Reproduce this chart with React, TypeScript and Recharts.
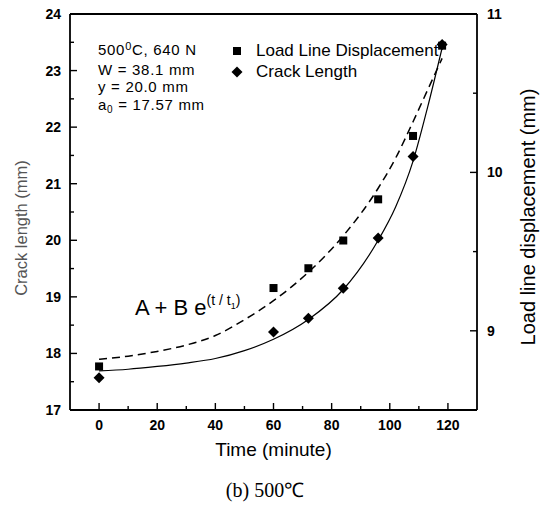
import React from 'react';
import { ComposedChart, Line, Scatter, XAxis, YAxis, Legend, Label } from 'recharts';

// axis ticks (minor ticks have no label)
const timeTicks = [0, 10, 20, 30, 40, 50, 60, 70, 80, 90, 100, 110, 120];
const timeLabels = [0, 20, 40, 60, 80, 100, 120];
const crackTicks = [17, 17.5, 18, 18.5, 19, 19.5, 20, 20.5, 21, 21.5, 22, 22.5, 23, 23.5, 24];
const crackLabels = [17, 18, 19, 20, 21, 22, 23, 24];
const displTicks = [8.5, 9, 9.5, 10, 10.5, 11];
const displLabels = [9, 10, 11];

// measured points
const pointTimes = [0, 60, 72, 84, 96, 108, 118];
const loadLineDisp = [8.775, 9.27, 9.395, 9.57, 9.83, 10.23, 10.8];
const crackLength = [17.57, 18.38, 18.62, 19.15, 20.04, 21.48, 23.46];

// fitted curves A + B e^(t/t1)
const fitTimes = [0, 10, 20, 30, 40, 50, 60, 72, 84, 96, 102, 108, 113, 118];
const loadLineFit = [8.82, 8.84, 8.87, 8.91, 8.97, 9.07, 9.19, 9.37, 9.6, 9.9, 10.09, 10.32, 10.52, 10.72];
const crackFit = [17.69, 17.72, 17.77, 17.83, 17.91, 18.05, 18.25, 18.6, 19.13, 20.0, 20.59, 21.4, 22.35, 23.4];

const legendOrder = ['Load Line Displacement', 'Crack Length'];
const legendMarks = { 'Load Line Displacement': 'square', 'Crack Length': 'diamond' };

const toRows = (ts, vs) => ts.map((t, i) => ({ t, v: vs[i] }));

const FONT = '"Liberation Sans", Arial, Helvetica, sans-serif';

const AxisTick = ({ x, y, payload, side, labels }) => {
    const v = payload.value;
    const major = labels.includes(v);
    const len = major ? 7 : 4;
    let line, text = null;
    if (side === 'left') {
        line = <line x1={x} y1={y} x2={x + len} y2={y} stroke="#000" strokeWidth={1.4} />;
        if (major) text = <text x={x - 9} y={y + 5} textAnchor="end">{v}</text>;
    } else if (side === 'right') {
        line = <line x1={x - len} y1={y} x2={x} y2={y} stroke="#000" strokeWidth={1.4} />;
        if (major) text = <text x={x + 10} y={y + 5} textAnchor="start">{v}</text>;
    } else if (side === 'bottom') {
        line = <line x1={x} y1={y} x2={x} y2={y - len} stroke="#000" strokeWidth={1.4} />;
        if (major) text = <text x={x} y={y + 20} textAnchor="middle">{v}</text>;
    } else {
        line = <line x1={x} y1={y} x2={x} y2={y + len} stroke="#000" strokeWidth={1.4} />;
    }
    return (
        <g fontFamily={FONT} fontSize={14} fontWeight="bold" fill="#000">
            {line}
            {text}
        </g>
    );
};

const Square = ({ cx, cy }) => <rect x={cx - 4} y={cy - 4} width={8} height={8} fill="#000" />;
const Diamond = ({ cx, cy }) => (
    <polygon points={`${cx},${cy - 5.5} ${cx + 5.5},${cy} ${cx},${cy + 5.5} ${cx - 5.5},${cy}`} fill="#000" />
);

const LegendContent = ({ payload }) => {
    const items = (payload || []).filter(p => legendMarks[p.value])
        .sort((a, b) => legendOrder.indexOf(a.value) - legendOrder.indexOf(b.value));
    return (
        <div style={{ fontFamily: FONT }}>
            {items.map(p => (
                <div key={p.value} style={{ display: 'flex', alignItems: 'center', height: 21 }}>
                    <svg width={16} height={12}>
                        {legendMarks[p.value] === 'square'
                            ? <rect x={3} y={2} width={8} height={8} fill="#000" />
                            : <polygon points="7,0.5 12.5,6 7,11.5 1.5,6" fill="#000" />}
                    </svg>
                    <span style={{ marginLeft: 10, fontSize: 17, color: '#000' }}>{p.value}</span>
                </div>
            ))}
        </div>
    );
};

const VTitle = ({ viewBox, text, dx, dy, size, color }) => {
    const cx = viewBox.x + dx;
    const cy = viewBox.y + viewBox.height / 2 + dy;
    return (
        <text x={cx} y={cy} transform={`rotate(-90 ${cx} ${cy})`} textAnchor="middle" dominantBaseline="central"
            fontFamily={FONT} fontSize={size} fill={color}>{text}</text>
    );
};

const XTitle = ({ viewBox }) => (
    <text x={viewBox.x + viewBox.width / 2} y={viewBox.y + 46} textAnchor="middle"
        fontFamily={FONT} fontSize={19} fill="#000">Time (minute)</text>
);

export default function App() {
    const squares = toRows(pointTimes, loadLineDisp);
    const diamonds = toRows(pointTimes, crackLength);
    const dashFit = toRows(fitTimes, loadLineFit);
    const solidFit = toRows(fitTimes, crackFit);

    return (
        <div style={{ position: 'absolute', left: 0, top: 0, width: 548, height: 510, background: '#fff', fontFamily: FONT }}>
            <ComposedChart width={548} height={470} margin={{ top: 0, right: 0, bottom: 0, left: 0 }}>
                <XAxis xAxisId="b" type="number" dataKey="t" domain={[-10, 130]} ticks={timeTicks} interval={0}
                    height={60} tickSize={0} tickMargin={0} tickLine={false} stroke="#000" strokeWidth={1.8}
                    tick={(p) => <AxisTick {...p} side="bottom" labels={timeLabels} />}>
                    <Label content={<XTitle />} />
                </XAxis>
                <XAxis xAxisId="top" orientation="top" type="number" domain={[-10, 130]} ticks={timeTicks} interval={0}
                    height={14} tickSize={0} tickMargin={0} tickLine={false} stroke="#000" strokeWidth={1.8}
                    tick={(p) => <AxisTick {...p} side="top" labels={timeLabels} />} />
                <YAxis yAxisId="l" type="number" domain={[17, 24]} ticks={crackTicks} interval={0} width={70}
                    tickSize={0} tickMargin={0} tickLine={false} stroke="#000" strokeWidth={1.8}
                    tick={(p) => <AxisTick {...p} side="left" labels={crackLabels} />}>
                    <Label content={<VTitle text="Crack length (mm)" dx={21} dy={16} size={16.5} color="#555" />} />
                </YAxis>
                <YAxis yAxisId="r" orientation="right" type="number" domain={[8.5, 11]} ticks={displTicks} interval={0} width={71}
                    tickSize={0} tickMargin={0} tickLine={false} stroke="#000" strokeWidth={1.8}
                    tick={(p) => <AxisTick {...p} side="right" labels={displLabels} />}>
                    <Label content={<VTitle text="Load line displacement (mm)" dx={51} dy={5} size={20} color="#000" />} />
                </YAxis>

                <Line xAxisId="b" yAxisId="r" data={dashFit} dataKey="v" type="monotone" stroke="#000" strokeWidth={1.5}
                    strokeDasharray="8 5" dot={false} legendType="none" isAnimationActive={false} />
                <Line xAxisId="b" yAxisId="l" data={solidFit} dataKey="v" type="monotone" stroke="#000" strokeWidth={1.2}
                    dot={false} legendType="none" isAnimationActive={false} />
                <Scatter xAxisId="b" yAxisId="r" name="Load Line Displacement" data={squares} dataKey="v"
                    shape={<Square />} isAnimationActive={false} />
                <Scatter xAxisId="b" yAxisId="l" name="Crack Length" data={diamonds} dataKey="v"
                    shape={<Diamond />} isAnimationActive={false} />

                <Legend layout="vertical" align="center" verticalAlign="middle" content={<LegendContent />}
                    wrapperStyle={{ left: 230, top: 40, width: 250, right: 'auto', bottom: 'auto' }} />
            </ComposedChart>

            <div style={{ position: 'absolute', left: 98, top: 41, fontSize: 15, lineHeight: '17.5px', letterSpacing: 0.7, color: '#000', whiteSpace: 'nowrap' }}>
                <div>500<span style={{ fontSize: 11, position: 'relative', top: -5 }}>0</span>C, 640 N</div>
                <div>W = 38.1 mm</div>
                <div>y = 20.0 mm</div>
                <div>a<span style={{ fontSize: 10, position: 'relative', top: 3 }}>0</span> = 17.57 mm</div>
            </div>

            <div style={{ position: 'absolute', left: 135, top: 295, fontSize: 22, lineHeight: '26px', color: '#000', whiteSpace: 'nowrap' }}>
                A + B e<span style={{ fontSize: 14, position: 'relative', top: -10 }}>(t / t<span style={{ fontSize: 9, position: 'relative', top: 4 }}>1</span>)</span>
            </div>

            <div style={{ position: 'absolute', left: 0, width: 530, top: 476, textAlign: 'center', fontFamily: '"Liberation Serif", "Times New Roman", serif', fontSize: 20, color: '#000' }}>
                (b) 500℃
            </div>
        </div>
    );
}
